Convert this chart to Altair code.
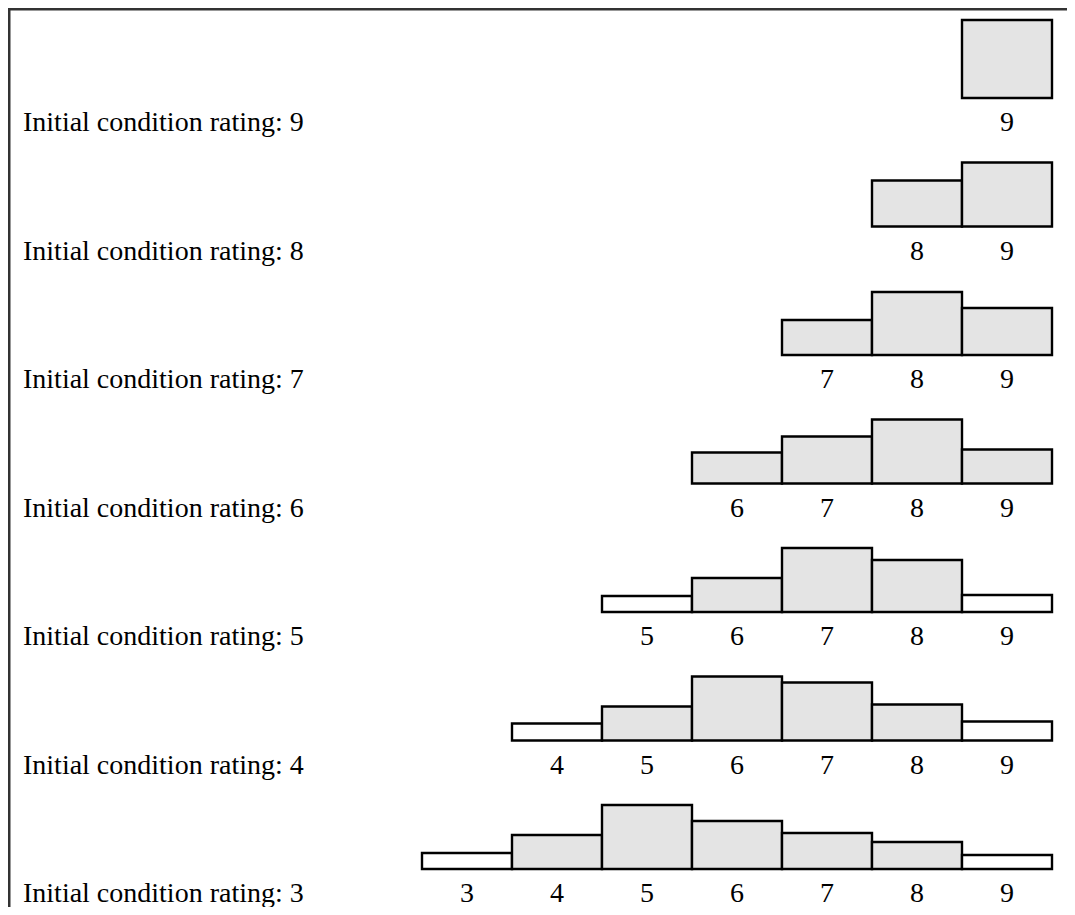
import altair as alt
import pandas as pd

# Initial condition rating for each panel (top to bottom)
initial_ratings = [9, 8, 7, 6, 5, 4, 3]
# Relative frequency of the later rating (from the initial rating up to 9)
row9 = [78]
row8 = [46, 64]
row7 = [35, 63, 47]
row6 = [31, 47, 64, 34]
row5 = [16, 34, 64, 52, 17]
row4 = [17, 34, 64, 58, 36, 19]
row3 = [16, 34, 64, 48, 36, 27, 14]
rows = [row9, row8, row7, row6, row5, row4, row3]
# white (unshaded) bars: small counts
unshaded = {(5, 5), (5, 9), (4, 4), (4, 9), (3, 3), (3, 9)}

ROW_PITCH = 128.5
records = []
for k, (init, vals) in enumerate(zip(initial_ratings, rows)):
    base = (len(initial_ratings) - 1 - k) * ROW_PITCH
    for j, v in enumerate(vals):
        r = init + j
        records.append({
            "initial": init, "rating": r, "value": v, "base": base,
            "shade": "white" if (init, r) in unshaded else "gray",
        })
df = pd.DataFrame(records)
labels = pd.DataFrame({
    "initial": initial_ratings,
    "base": [(len(initial_ratings) - 1 - k) * ROW_PITCH for k in range(len(initial_ratings))],
})
labels["text"] = "Initial condition rating: " + labels["initial"].astype(str)

W, H = 1059, 899
xscale = alt.Scale(domain=[-2.1, -2.1 + W / 90.0], nice=False, zero=False)
yscale = alt.Scale(domain=[-(H - 861), 861], nice=False, zero=False)
FONT = "Liberation Serif"

bars = alt.Chart(df).transform_calculate(
    x0="datum.rating - 0.5", x1="datum.rating + 0.5",
    top="datum.base + datum.value",
).mark_rect(stroke="black", strokeWidth=2.4).encode(
    x=alt.X("x0:Q", scale=xscale, axis=None),
    x2="x1:Q",
    y=alt.Y("top:Q", scale=yscale, axis=None),
    y2="base:Q",
    fill=alt.Fill("shade:N", scale=alt.Scale(domain=["gray", "white"], range=["#e4e4e4", "#ffffff"]), legend=None),
)

ticks = alt.Chart(df).transform_calculate(
    ty="datum.base - 33"
).mark_text(font=FONT, fontSize=28, color="black", baseline="alphabetic", align="center").encode(
    x=alt.X("rating:Q", scale=xscale, axis=None),
    y=alt.Y("ty:Q", scale=yscale, axis=None),
    text="rating:N",
)

rowlabels = alt.Chart(labels).transform_calculate(
    ty="datum.base - 33"
).mark_text(font=FONT, fontSize=28, color="black", baseline="alphabetic", align="left").encode(
    x=alt.value(15),
    y=alt.Y("ty:Q", scale=yscale, axis=None),
    text="text:N",
)

one = alt.Data(values=[{}])
left_line = alt.Chart(one).mark_rule(color="#333333", strokeWidth=3).encode(
    x=alt.value(1), y=alt.value(0), y2=alt.value(H)
)
top_line = alt.Chart(one).mark_rule(color="#333333", strokeWidth=3).encode(
    y=alt.value(1), x=alt.value(0), x2=alt.value(W)
)

chart = alt.layer(bars, ticks, rowlabels, left_line, top_line).properties(
    width=W, height=H, padding=0, autosize=alt.AutoSizeParams(type="none"),
    background="white",
).configure_view(stroke=None)

chart.save("out.html", embed_options={"renderer": "svg", "actions": False})
